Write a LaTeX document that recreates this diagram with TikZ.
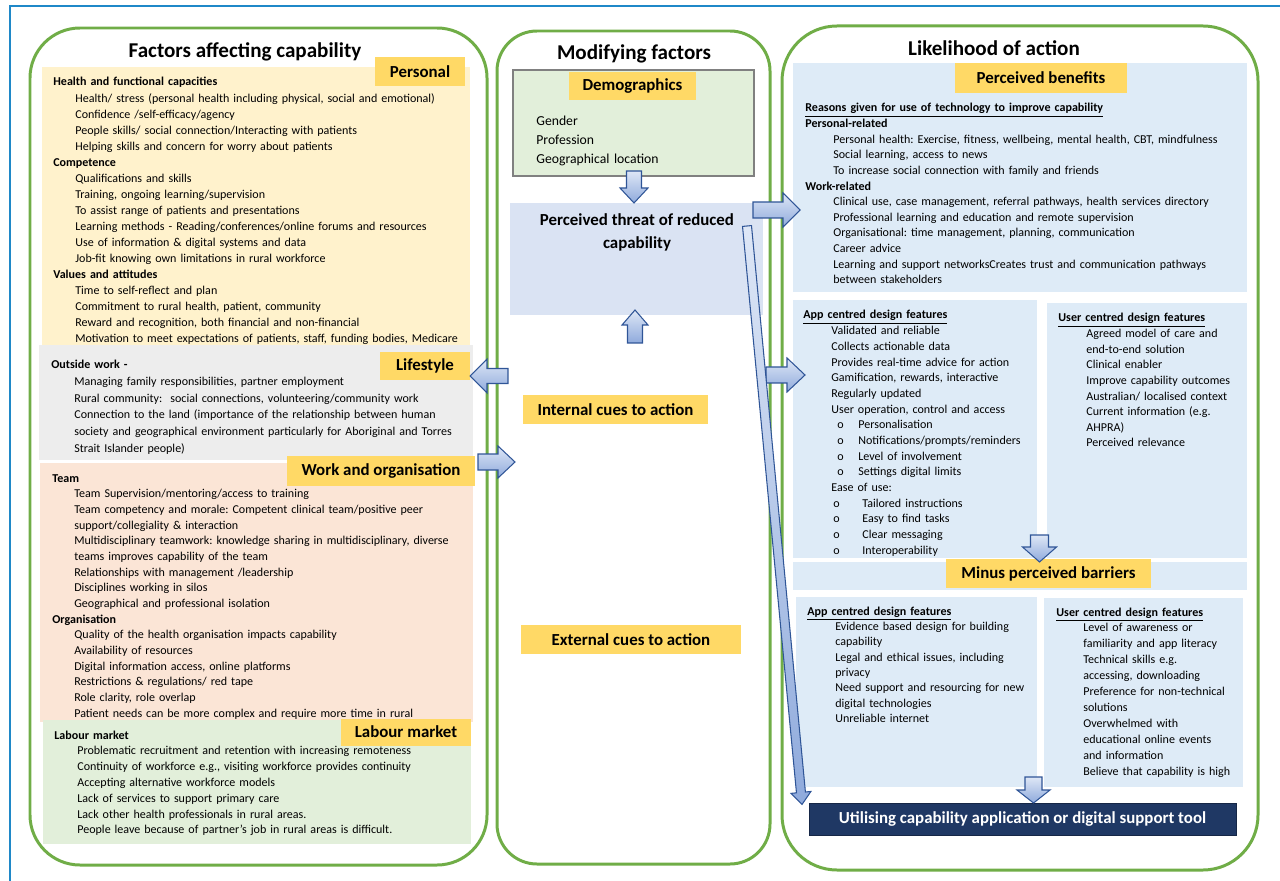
\documentclass[tikz,border=0pt]{standalone}
\usepackage{fontspec}
\setmainfont{Carlito}
\usepackage{xcolor}
\usepackage{tikz}
\usetikzlibrary{positioning, fit, calc}
\definecolor{framegreen}{RGB}{112,173,71}
\definecolor{persfill}{RGB}{255,242,204}
\definecolor{lifefill}{RGB}{237,237,237}
\definecolor{workfill}{RGB}{251,229,214}
\definecolor{labourfill}{RGB}{226,239,218}
\definecolor{tagyellow}{RGB}{255,217,102}
\definecolor{threatfill}{RGB}{218,227,243}
\definecolor{likefill}{RGB}{222,235,247}
\definecolor{navybox}{RGB}{31,56,100}
\definecolor{arrowline}{RGB}{47,85,151}
\definecolor{arrowmid}{RGB}{143,170,220}
\definecolor{arrowlight}{RGB}{222,231,246}
\definecolor{edgeblue}{RGB}{31,136,200}

\frenchspacing
\newlength{\indw}
\newcommand{\itm}{\hspace*{\indw}}
\newcommand{\bulo}[1][6.8mm]{\makebox[11mm][l]{\hspace*{#1}o}}

\tikzset{
    blockbody/.style={draw=arrowline, line width=0.6pt, top color=arrowlight, bottom color=arrowmid},
    pics/blockarrow/.style n args={4}{code={
        % #1 length, #2 half shaft, #3 half head, #4 head length
        \path[blockbody] (0,{-#2}) -- ({#1-#4},{-#2}) -- ({#1-#4},{-#3}) -- (#1,0)
            -- ({#1-#4},#3) -- ({#1-#4},#2) -- (0,#2) -- cycle;
    }}
}

\begin{document}
\begin{tikzpicture}[
    x=0.02cm, y=-0.02cm,
    colframe/.style={draw=framegreen, line width=1.7pt, rounded corners=#1, inner sep=0pt},
    panel/.style={fill=#1, inner sep=0pt},
    tagbox/.style={fill=tagyellow, font=\bfseries\fontsize{9.6}{11.5}\selectfont, inner sep=0pt},
    heading/.style={font=\bfseries\fontsize{12}{14}\selectfont, inner sep=0pt},
    bodytext/.style 2 args={anchor=base west, text width=9cm, align=left, inner sep=0pt,
        font={\fontsize{6.85}{#1}\selectfont\setlength{\indw}{#2}}},
    edgeline/.style={draw=edgeblue, line width=1.1pt}
]
    \useasboundingbox (0,0) rectangle (1280,881);
    \draw[edgeline] (10,881) -- (10,6) -- (1280,6);

    % Column frames
    \node[colframe=1cm, fit={(30,28) (487,865)}] (capframe) {};
    \node[colframe=0.8cm, fit={(497,31) (770,864)}] (modframe) {};
    \node[colframe=1.1cm, fit={(782,26) (1258,870)}] (actframe) {};

    \node[heading] (captitle) at (245,52) {Factors affecting capability};
    \node[heading] (modtitle) at (634,54) {Modifying factors};
    \node[heading] (acttitle) at (994,48) {Likelihood of action};

    % Factors affecting capability
    \node[panel=persfill, fit={(42,67) (470,345)}] (persbox) {};
    \node[bodytext={9.12}{4.4mm}] (perstext) at (53,86) {\textbf{Health and functional capacities}\\
        \itm Health/ stress (personal health including physical, social and emotional)\\
        \itm Confidence /self-efficacy/agency\\
        \itm People skills/ social connection/Interacting with patients\\
        \itm Helping skills and concern for worry about patients\\
        \textbf{Competence}\\
        \itm Qualifications and skills\\
        \itm Training, ongoing learning/supervision\\
        \itm To assist range of patients and presentations\\
        \itm Learning methods - Reading/conferences/online forums and resources\\
        \itm Use of information \& digital systems and data\\
        \itm Job-fit knowing own limitations in rural workforce\\
        \textbf{Values and attitudes}\\
        \itm Time to self-reflect and plan\\
        \itm Commitment to rural health, patient, community\\
        \itm Reward and recognition, both financial and non-financial\\
        \itm Motivation to meet expectations of patients, staff, funding bodies, Medicare};

    \node[panel=lifefill, fit={(39,345) (473,460)}] (lifebox) {};
    \node[bodytext={9.45}{4.6mm}] (lifetext) at (51,369) {\textbf{Outside work -}\\
        \itm Managing family responsibilities, partner employment\\
        \itm Rural community:\ \ social connections, volunteering/community work\\
        \itm Connection to the land (importance of the relationship between human\\
        \itm society and geographical environment particularly for Aboriginal and Torres\\
        \itm Strait Islander people)};

    \node[panel=workfill, fit={(40,463) (473,722)}] (workbox) {};
    \node[bodytext={8.92}{4.4mm}] (worktext) at (52,482) {\textbf{Team}\\
        \itm Team Supervision/mentoring/access to training\\
        \itm Team competency and morale: Competent clinical team/positive peer\\
        \itm support/collegiality \& interaction\\
        \itm Multidisciplinary teamwork: knowledge sharing in multidisciplinary, diverse\\
        \itm teams improves capability of the team\\
        \itm Relationships with management /leadership\\
        \itm Disciplines working in silos\\
        \itm Geographical and professional isolation\\
        \textbf{Organisation}\\
        \itm Quality of the health organisation impacts capability\\
        \itm Availability of resources\\
        \itm Digital information access, online platforms\\
        \itm Restrictions \& regulations/ red tape\\
        \itm Role clarity, role overlap\\
        \itm Patient needs can be more complex and require more time in rural};

    \node[panel=labourfill, fit={(43,720) (471,844)}] (labourbox) {};
    \node[bodytext={9.0}{4.6mm}] (labourtext) at (54,739) {\textbf{Labour market}\\
        \itm Problematic recruitment and retention with increasing remoteness\\
        \itm Continuity of workforce e.g., visiting workforce provides continuity\\
        \itm Accepting alternative workforce models\\
        \itm Lack of services to support primary care\\
        \itm Lack other health professionals in rural areas.\\
        \itm People leave because of partner’s job in rural areas is difficult.};

    \node[tagbox, minimum width=1.8cm, minimum height=0.58cm] (personal) at (420,71.5) {Personal};
    \node[tagbox, minimum width=1.8cm, minimum height=0.56cm] (lifestyle) at (425,366) {Lifestyle};
    \node[tagbox, minimum width=3.76cm, minimum height=0.6cm] (workorg) at (381,471) {Work and organisation};
    \node[tagbox, minimum width=2.6cm, minimum height=0.54cm] (labour) at (406,732) {Labour market};

    % Modifying factors
    \node[panel=labourfill, draw=gray, line width=0.6pt, fit={(513,70) (754,176)}] (demobox) {};
    \node[tagbox, minimum width=2.54cm, minimum height=0.56cm] (demo) at (632.5,86) {Demographics};
    \node[anchor=base west, text width=4cm, align=left, inner sep=0pt, font=\fontsize{7.8}{10.8}\selectfont] (demotext) at (536,126) {Gender\\Profession\\Geographical location};

    \node[panel=threatfill, fit={(510,203) (763,315)}] (threatbox) {};
    \node[align=center, inner sep=0pt, font=\bfseries\fontsize{9.6}{13}\selectfont] (threat) at (637,232) {Perceived threat of reduced\\capability};
    \coordinate (diagstart) at (747,226);

    \node[tagbox, minimum width=3.7cm, minimum height=0.58cm] (internal) at (615.5,409.5) {Internal cues to action};
    \node[tagbox, minimum width=4.4cm, minimum height=0.58cm] (external) at (631,639.5) {External cues to action};

    % Likelihood of action
    \node[panel=likefill, fit={(793,63) (1247,292)}] (benefitbox) {};
    \node[bodytext={8.88}{5.6mm}] (benefittext) at (805,112) {\underline{\textbf{Reasons given for use of technology to improve capability}}\\
        \textbf{Personal-related}\\
        \itm Personal health: Exercise, fitness, wellbeing, mental health, CBT, mindfulness\\
        \itm Social learning, access to news\\
        \itm To increase social connection with family and friends\\
        \textbf{Work-related}\\
        \itm Clinical use, case management, referral pathways, health services directory\\
        \itm Professional learning and education and remote supervision\\
        \itm Organisational: time management, planning, communication\\
        \itm Career advice\\
        \itm Learning and support networksCreates trust and communication pathways\\
        \itm between stakeholders};
    \node[tagbox, minimum width=3.44cm, minimum height=0.6cm] (benefits) at (1041,78) {Perceived benefits};

    \node[panel=likefill, fit={(793,300) (1037,558)}] (appbox) {};
    \begin{scope}
        \clip (793,300) rectangle (1037,556);
        \node[bodytext={8.93}{5.6mm}] (apptext) at (803,319) {\underline{\textbf{App centred design features}}\\
            \itm Validated and reliable\\
            \itm Collects actionable data\\
            \itm Provides real-time advice for action\\
            \itm Gamification, rewards, interactive\\
            \itm Regularly updated\\
            \itm User operation, control and access\\
            \bulo Personalisation\\
            \bulo Notifications/prompts/reminders\\
            \bulo Level of involvement\\
            \bulo Settings digital limits\\
            \itm Ease of use:\\
            \bulo[6mm] Tailored instructions\\
            \bulo[6mm] Easy to find tasks\\
            \bulo[6mm] Clear messaging\\
            \bulo[6mm] Interoperability};
    \end{scope}

    \node[panel=likefill, fit={(1047,303) (1247,558)}] (userbox) {};
    \node[bodytext={8.88}{5.6mm}] (usertext) at (1058,322) {\underline{\textbf{User centred design features}}\\
        \itm Agreed model of care and\\
        \itm end-to-end solution\\
        \itm Clinical enabler\\
        \itm Improve capability outcomes\\
        \itm Australian/ localised context\\
        \itm Current information (e.g.\\
        \itm AHPRA)\\
        \itm Perceived relevance};

    \node[panel=likefill, fit={(793,562) (1247,590)}] (barrierstrip) {};
    \node[tagbox, minimum width=4.1cm, minimum height=0.58cm] (barriers) at (1048.5,573.5) {Minus perceived barriers};

    \node[panel=likefill, fit={(796,597) (1037,787)}] (appbarbox) {};
    \node[bodytext={8.76}{5.6mm}] (appbartext) at (807,615) {\underline{\textbf{App centred design features}}\\
        \itm Evidence based design for building\\
        \itm capability\\
        \itm Legal and ethical issues, including\\
        \itm privacy\\
        \itm Need support and resourcing for new\\
        \itm digital technologies\\
        \itm Unreliable internet};

    \node[panel=likefill, fit={(1044,598) (1243,787)}] (userbarbox) {};
    \node[bodytext={9.1}{5.4mm}] (userbartext) at (1056,616) {\underline{\textbf{User centred design features}}\\
        \itm Level of awareness or\\
        \itm familiarity and app literacy\\
        \itm Technical skills e.g.\\
        \itm accessing, downloading\\
        \itm Preference for non-technical\\
        \itm solutions\\
        \itm Overwhelmed with\\
        \itm educational online events\\
        \itm and information\\
        \itm Believe that capability is high};

    \node[fill=navybox, draw=navybox!70!black, text=white, inner sep=0pt, minimum width=8.54cm, minimum height=0.64cm,
        font=\bfseries\fontsize{9.6}{11.5}\selectfont] (tool) at (1022.5,819) {Utilising capability application or digital support tool};

    % Block arrows
    \pic[rotate=-90] at (634,171) {blockarrow={32}{7.5}{14}{15}};
    \pic[rotate=90] at (635,343) {blockarrow={33}{7.5}{13}{15}};
    \pic[rotate=180] at (508,376) {blockarrow={38}{7.5}{17}{17}};
    \pic at (478,462) {blockarrow={37}{8}{16}{17}};
    \pic at (753,210) {blockarrow={47}{8}{17}{17}};
    \pic at (766,375) {blockarrow={39}{8}{17}{18}};
    \pic[rotate=-84.56] at (diagstart) {blockarrow={581}{4.5}{10}{12}};
    \pic[rotate=-90] at (1039.5,535) {blockarrow={27}{9}{17}{15}};
    \pic[rotate=-90] at (1033.5,777) {blockarrow={26}{8.5}{16.5}{13}};
\end{tikzpicture}
\end{document}
